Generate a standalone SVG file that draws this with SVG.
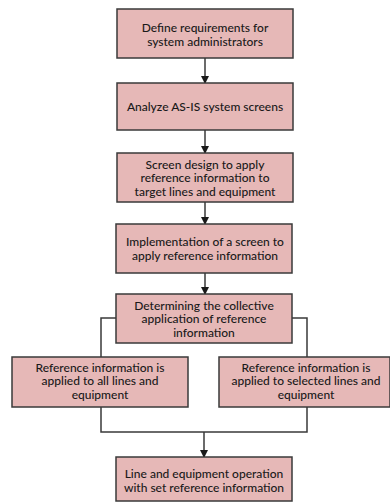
<svg xmlns="http://www.w3.org/2000/svg" width="390" height="502" viewBox="0 0 390 502">
<defs>
<style>
.box{fill:#e6b8b7;stroke:#3a3a3a;stroke-width:1.5}
.t{font-family:Lato,"Open Sans",sans-serif;font-size:12px;fill:#1a1a1a;text-anchor:middle;font-weight:500}
.ln{fill:none;stroke:#3a3a3a;stroke-width:1.5}
</style>
<marker id="ah" markerWidth="8" markerHeight="8" refX="7" refY="4" orient="auto" markerUnits="userSpaceOnUse">
<path d="M0,0 L8,4 L0,8 z" fill="#1a1a1a"/>
</marker>
</defs>
<rect width="390" height="502" fill="#ffffff"/>
<g id="connectors">
<line class="ln" x1="205" y1="58" x2="205" y2="83" marker-end="url(#ah)"/>
<line class="ln" x1="205" y1="130" x2="205" y2="153" marker-end="url(#ah)"/>
<line class="ln" x1="205" y1="202" x2="205" y2="224" marker-end="url(#ah)"/>
<line class="ln" x1="205" y1="273" x2="205" y2="294" marker-end="url(#ah)"/>
<polyline class="ln" points="116,318 101,318 101,357"/>
<polyline class="ln" points="292,318 307,318 307,357"/>
<polyline class="ln" points="101,407 101,432 307,432 307,407"/>
<line class="ln" x1="204" y1="432" x2="204" y2="457" marker-end="url(#ah)"/>
</g>
<g id="n1"><rect class="box" x="117" y="9" width="176" height="49"/>
<text class="t" x="205" y="32">Define requirements for</text><text class="t" x="205" y="46">system administrators</text></g>
<g id="n2"><rect class="box" x="117" y="83" width="176" height="47"/>
<text class="t" x="205" y="111">Analyze AS-IS system screens</text></g>
<g id="n3"><rect class="box" x="117" y="153" width="176" height="49"/>
<text class="t" x="205" y="168.5">Screen design to apply</text><text class="t" x="205" y="182">reference information  to</text><text class="t" x="205" y="195.5">target lines and equipment</text></g>
<g id="n4"><rect class="box" x="116" y="224" width="176" height="49"/>
<text class="t" x="205" y="246">Implementation of a screen to</text><text class="t" x="205" y="260">apply reference information</text></g>
<g id="n5"><rect class="box" x="116" y="294" width="176" height="49"/>
<text class="t" x="204" y="309.5">Determining the collective</text><text class="t" x="204" y="323">application of  reference</text><text class="t" x="204" y="336.5">information</text></g>
<g id="n6"><rect class="box" x="12" y="357" width="176" height="50"/>
<text class="t" x="100" y="371.5">Reference information  is</text><text class="t" x="100" y="385">applied to all lines and</text><text class="t" x="100" y="398.5">equipment</text></g>
<g id="n7"><rect class="box" x="219" y="357" width="171" height="50"/>
<text class="t" x="306" y="371.5">Reference information  is</text><text class="t" x="306" y="385">applied to selected lines and</text><text class="t" x="306" y="398.5">equipment</text></g>
<g id="n8"><rect class="box" x="116" y="457" width="176" height="44"/>
<text class="t" x="204" y="478">Line and equipment operation</text><text class="t" x="204" y="492">with set reference information</text></g>
</svg>
